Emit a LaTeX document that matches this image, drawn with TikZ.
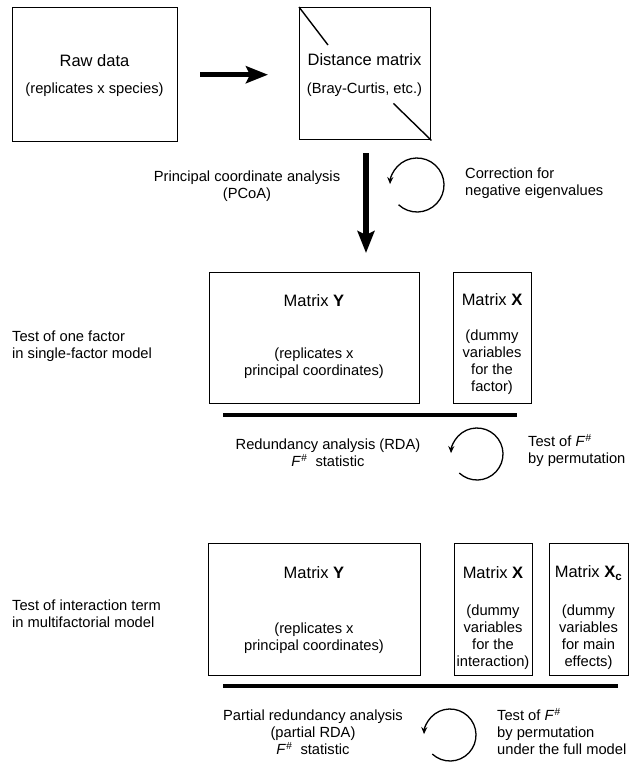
\documentclass[tikz,border=0pt]{standalone}
\usepackage{fontspec}
\setmainfont{Liberation Sans}
\usetikzlibrary{arrows.meta}

\tikzset{
  matbox/.style={draw, line width=1.4pt, anchor=north west, inner sep=0pt},
  boxtitle/.style={font=\fontsize{16.5}{19}\selectfont},
  boxnote/.style={font=\fontsize{14.7}{17}\selectfont, align=center},
  sidenote/.style={font=\fontsize{14.7}{17}\selectfont, align=left, anchor=west, inner sep=0pt},
  bigarrow/.style={line width=5.5pt, -{Stealth[length=22pt,width=17pt,inset=4pt]}},
  barline/.style={line width=4.5pt},
  cyclearrow/.style={line width=1.3pt, -{Stealth[length=7pt,width=6pt]}}
}
\newcommand{\Fstat}{\textit{F}\textsuperscript{\itshape\#}}

\begin{document}
\begin{tikzpicture}[x=1pt, y=-1pt]
    \useasboundingbox (0,0) rectangle (643,764);
    % raw data -> distance matrix
    \node[matbox, minimum width=165pt, minimum height=134pt] (raw) at (12,7) {};
    \node[matbox, minimum width=131pt, minimum height=132pt] (dist) at (299,7) {};
    \draw[line width=1.4pt] (dist.north west) -- ++(29,38);
    \draw[line width=1.4pt] (dist.south east) -- ++(-38,-37);
    \node[boxtitle] (rawT) at (94.5,61) {Raw data};
    \node[boxnote] (rawN) at (94.5,90) {(replicates x species)};
    \node[boxtitle] (distT) at (364.5,60) {Distance matrix};
    \node[boxnote] (distN) at (364.5,90) {(Bray-Curtis, etc.)};
    \draw[bigarrow, shorten <=22pt, shorten >=31pt] (raw.east) -- (raw.east -| dist.west);

    % PCoA
    \coordinate (pcoaTop) at (366,153);
    \coordinate (pcoaEnd) at (366,253);
    \draw[bigarrow] (pcoaTop) -- (pcoaEnd);
    \node[boxnote] (pcoa) at (247,186.5) {Principal coordinate analysis\\(PCoA)};
    \coordinate (turnA) at (417,185);
    \draw[cyclearrow] ([shift={(133:27)}]turnA) arc[start angle=133, end angle=-178, radius=27];
    \node[sidenote] (corr) at (465,183.5) {Correction for\\negative eigenvalues};

    % single-factor model
    \node[matbox, minimum width=210pt, minimum height=131pt] (oneY) at (209,272) {};
    \node[matbox, minimum width=78pt, minimum height=131pt] (oneX) at (453,272) {};
    \node[boxtitle] (oneYT) at (314,301) {Matrix \textbf{Y}};
    \node[boxtitle] (oneXT) at (492,300) {Matrix \textbf{X}};
    \node[boxnote] (oneYN) at (314,363.5) {(replicates x\\principal coordinates)};
    \node[boxnote] (oneXN) at (492,362.5) {(dummy\\variables\\for the\\factor)};
    \node[sidenote] (oneL) at (12,346.5) {Test of one factor\\in single-factor model};
    \coordinate (oneA) at (223,415);
    \coordinate (oneB) at (517,415);
    \draw[barline] (oneA) -- (oneB);
    \node[boxnote] (rda) at (328,452.5) {Redundancy analysis (RDA)\\\Fstat\ \ statistic};
    \coordinate (turnB) at (477,454);
    \draw[cyclearrow] ([shift={(133:26)}]turnB) arc[start angle=133, end angle=-178, radius=26];
    \node[sidenote] (permB) at (528,450.5) {Test of \Fstat\\by permutation};

    % multifactorial model
    \node[matbox, minimum width=212pt, minimum height=132pt] (intY) at (208,543) {};
    \node[matbox, minimum width=78pt, minimum height=132pt] (intX) at (454,543) {};
    \node[matbox, minimum width=79pt, minimum height=132pt] (intXc) at (549,543) {};
    \node[boxtitle] (intYT) at (314,573) {Matrix \textbf{Y}};
    \node[boxtitle] (intXT) at (493,573) {Matrix \textbf{X}};
    \node[boxtitle] (intXcT) at (588.5,573) {Matrix \textbf{X}\textsubscript{\textbf{c}}};
    \node[boxnote] (intYN) at (314,638.5) {(replicates x\\principal coordinates)};
    \node[boxnote] (intXN) at (493,637.5) {(dummy\\variables\\for the\\interaction)};
    \node[boxnote] (intXcN) at (588.5,637.5) {(dummy\\variables\\for main\\effects)};
    \node[sidenote] (intL) at (12,613.5) {Test of interaction term\\in multifactorial model};
    \coordinate (intA) at (223,686);
    \coordinate (intB) at (618,686);
    \draw[barline] (intA) -- (intB);
    \node[boxnote] (prda) at (313,732) {Partial redundancy analysis\\(partial RDA)\\\Fstat\ \ statistic};
    \coordinate (turnC) at (450,735);
    \draw[cyclearrow] ([shift={(133:26)}]turnC) arc[start angle=133, end angle=-178, radius=26];
    \node[sidenote] (permC) at (497,731.5) {Test of \Fstat\\by permutation\\under the full model};
\end{tikzpicture}
\end{document}
